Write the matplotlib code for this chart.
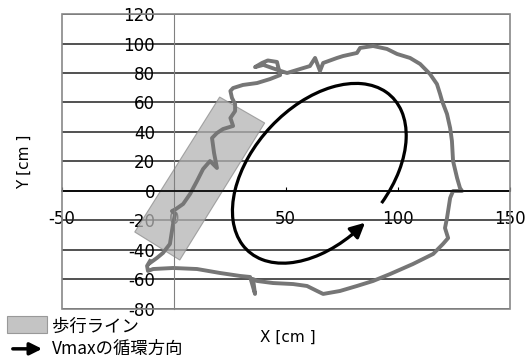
import numpy as np
import matplotlib
matplotlib.use('Agg')
import matplotlib.pyplot as plt
from matplotlib.patches import Arc, Polygon, Rectangle, FancyArrowPatch

plt.rcParams['font.family'] = ['DejaVu Sans', 'Noto Sans CJK JP']
plt.rcParams['axes.unicode_minus'] = False

# walking trajectory [cm]
traj_x = [-10.6, -7.5, -4.8, -1.7, -0.3, 0.6, -0.8, 1.0, 4.2, 7.3, 10.4, 13.1, 16.2, 19.3, 18.0,
          17.1, 19.3, 22.0, 26.5, 25.3, 27.4, 27.4, 26.0, 25.3, 26.5, 30.9, 37.2, 43.0, 47.5, 46.1,
          42.0, 39.4, 36.3, 40.0, 46.5, 50.6, 56.4, 60.8, 63.1, 65.3, 66.7, 72.9, 75.6, 81.8, 83.2,
          89.0, 95.2, 99.7, 105.5, 110.0, 114.4, 117.5, 118.9, 119.8, 122.0, 123.4, 124.2, 124.7, 126.5, 127.8,
          128.7, 124.7, 123.4, 122.0, 121.1, 122.5, 120.2, 115.8, 106.8, 96.6, 89.0, 81.8, 74.2, 66.7, 64.0,
          59.5, 53.3, 44.3, 37.2, 35.4, 36.3, 34.1, 29.6, 20.7, 10.4, -0.3, -9.2, -11.5, -11.9, -10.6]
traj_y = [-48.8, -45.4, -42.0, -35.9, -22.4, -15.6, -13.6, -12.2, -8.8, -2.0, 6.8, 14.9, 20.3, 15.6, 25.8,
          35.9, 39.3, 42.0, 44.1, 49.5, 54.2, 59.0, 63.1, 67.8, 69.8, 71.9, 73.2, 75.9, 78.6, 87.5,
          88.5, 86.8, 84.0, 85.5, 82.0, 80.0, 82.7, 84.7, 90.2, 81.4, 86.8, 90.2, 91.5, 93.6, 97.0,
          98.3, 96.3, 92.9, 90.2, 86.1, 79.3, 72.5, 65.8, 61.0, 52.2, 42.7, 33.9, 20.3, 8.8, 2.0,
          0.0, 0.0, -4.7, -18.3, -25.1, -31.9, -35.9, -42.7, -49.5, -56.3, -61.0, -64.4, -67.8, -69.8, -67.8,
          -64.4, -63.1, -62.4, -61.0, -59.7, -69.8, -58.3, -57.6, -55.6, -52.9, -52.2, -52.9, -54.2, -50.8, -47.5]

# walking line band (corners)
band_x = [20.5, 40.6, 2.7, -17.4]
band_y = [63.7, 46.1, -46.8, -27.8]

x_ticks = [-50, 0, 50, 100, 150]
y_ticks = [-80, -60, -40, -20, 0, 20, 40, 60, 80, 100, 120]

# circulation ellipse for the Vmax arrow
ell_cx, ell_cy = 65, 12
ell_a, ell_b, ell_ang = 64, 33.5, 69
t_start, t_end, t_tip = 262, 238, 248


def ell_pt(t):
    t = np.deg2rad(t)
    r = np.deg2rad(ell_ang)
    u, v = ell_a * np.cos(t), ell_b * np.sin(t)
    return (ell_cx + u * np.cos(r) - v * np.sin(r), ell_cy + u * np.sin(r) + v * np.cos(r))


def polar(t):
    t = np.deg2rad(t)
    return np.rad2deg(np.arctan2(ell_b * np.sin(t), ell_a * np.cos(t)))


fig = plt.figure(figsize=(5.28, 3.6), dpi=100)
ax = fig.add_axes([0.1169, 0.1417, 0.8485, 0.8194])
ax.set_xlim(-50, 150)
ax.set_ylim(-80, 120)

ax.set_xticks(x_ticks)
ax.set_yticks(y_ticks)
ax.yaxis.grid(True, color='#222222', lw=1.1, zorder=0.5)
ax.set_axisbelow(True)

for s in ['top', 'right']:
    ax.spines[s].set_visible(False)
ax.spines['left'].set_position(('data', 0))
ax.spines['left'].set_color('#808080')
ax.spines['bottom'].set_position(('data', 0))
ax.spines['bottom'].set_color('black')
ax.spines['bottom'].set_linewidth(1.2)
ax.add_patch(Rectangle((0, 0), 1, 1, transform=ax.transAxes, fill=False,
                       ec='#888888', lw=1.2, clip_on=False, zorder=3))

ax.tick_params(axis='y', length=0, pad=13.5, labelsize=12)
ax.tick_params(axis='x', direction='in', length=3, width=0.8, pad=14, labelsize=12)

ax.add_patch(Polygon(list(zip(band_x, band_y)), closed=True, fc='#b4b4b4',
                     ec='#8c8c8c', lw=0.8, alpha=0.75, zorder=1))
ax.plot(traj_x, traj_y, color='#767676', lw=2.8, solid_joinstyle='round', zorder=2)

ax.add_patch(Arc((ell_cx, ell_cy), 2 * ell_a, 2 * ell_b, angle=ell_ang,
                 theta1=polar(t_start), theta2=polar(t_end), color='black', lw=2.3, zorder=4))
ax.annotate('', xy=ell_pt(t_tip), xytext=ell_pt(t_end),
            arrowprops=dict(arrowstyle='-|>', color='black', lw=2.3, mutation_scale=22,
                            shrinkA=0, shrinkB=0), zorder=4)

fig.text(0.545, 0.064, 'X [cm ]', ha='center', va='center', fontsize=11)
fig.text(0.047, 0.55, 'Y [cm ]', ha='center', va='center', fontsize=11, rotation=90)

# legend drawn by hand below the plot
fig.add_artist(Rectangle((0.0133, 0.0750), 0.0758, 0.0472, transform=fig.transFigure,
                         fc='#c4c4c4', ec='#999999', lw=0.8))
fig.text(0.0985, 0.093, '歩行ライン', ha='left', va='center', fontsize=12.5,
         family=['Noto Sans CJK JP', 'DejaVu Sans'])
fig.add_artist(FancyArrowPatch((0.019, 0.031), (0.085, 0.031), transform=fig.transFigure,
                               arrowstyle='-|>', mutation_scale=18, lw=2.5, color='black'))
fig.text(0.0985, 0.031, 'Vmaxの循環方向', ha='left', va='center', fontsize=12.5,
         family=['Liberation Sans Narrow', 'Noto Sans CJK JP', 'DejaVu Sans'])

fig.savefig('out.png', dpi=100)
